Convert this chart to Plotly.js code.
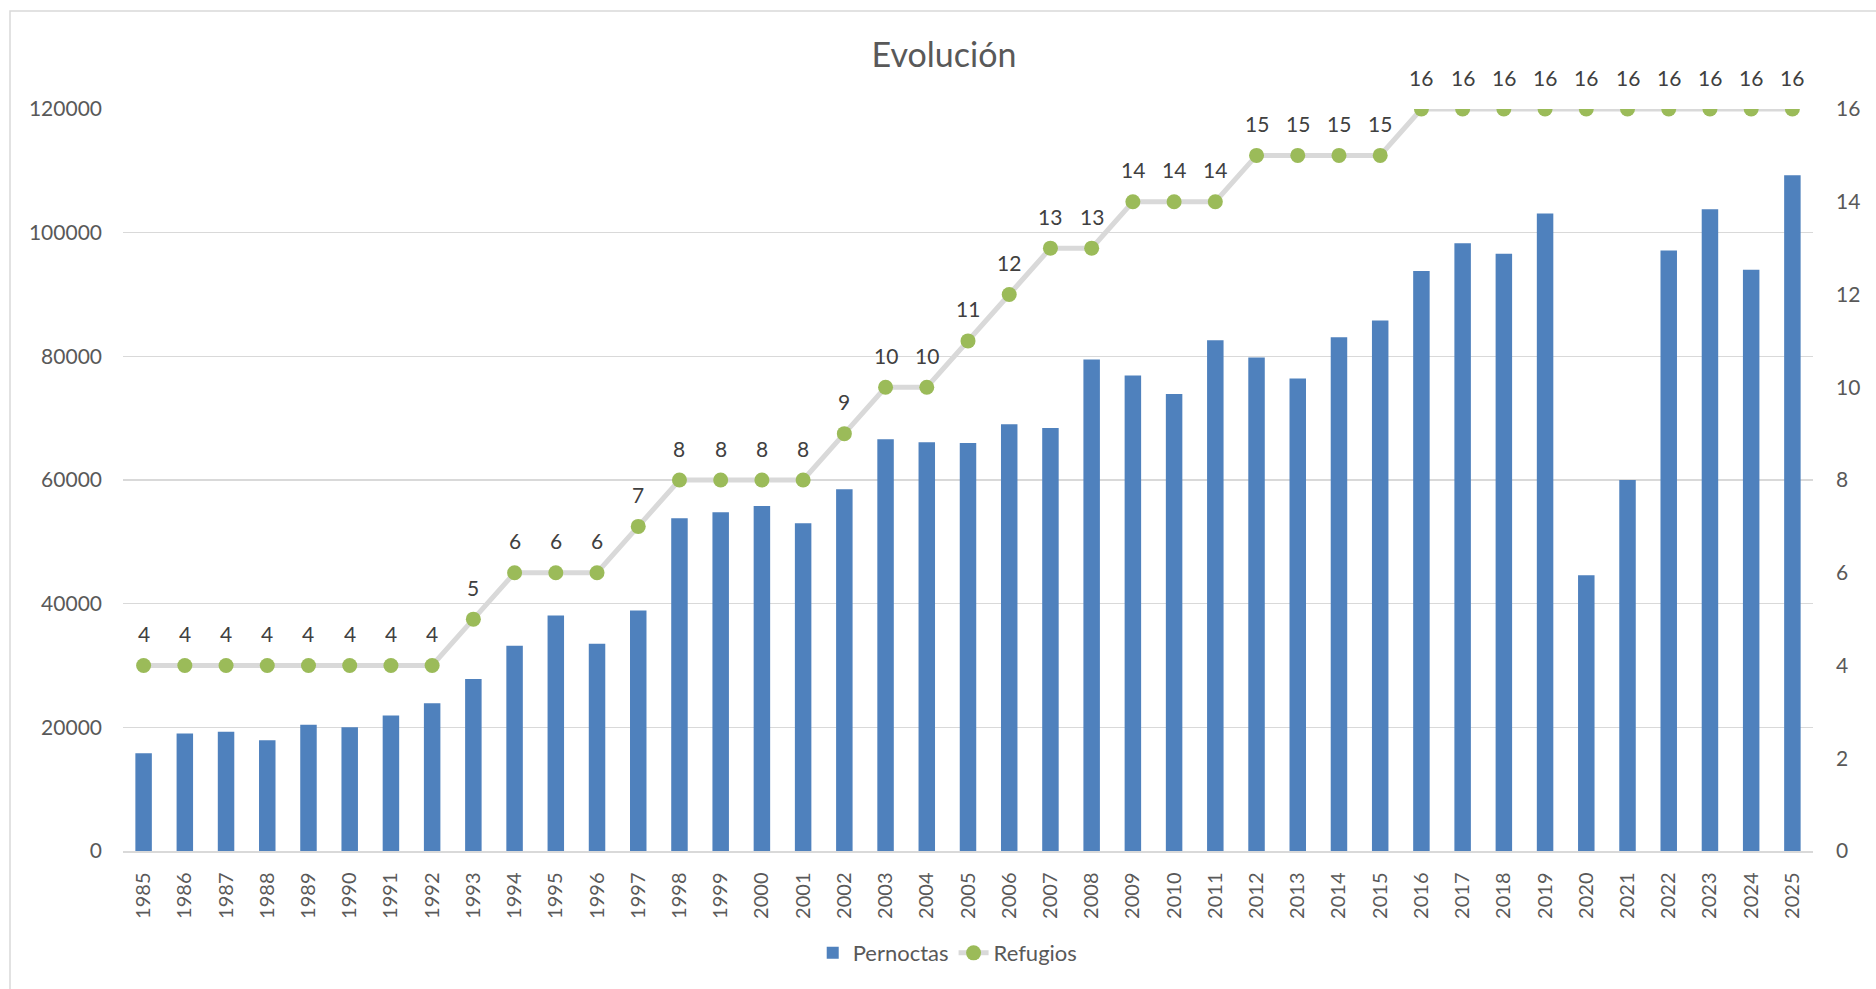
<!DOCTYPE html>
<html>
<head>
<meta charset="utf-8">
<script src="https://cdn.plot.ly/plotly-3.0.1.min.js"></script>
<style>
html, body { margin: 0; padding: 0; background: #ffffff; }
#chart { width: 1876px; height: 989px; }
</style>
</head>
<body>
<div id="chart"></div>
<script>
const years = ["1985","1986","1987","1988","1989","1990","1991","1992","1993","1994",
  "1995","1996","1997","1998","1999","2000","2001","2002","2003","2004",
  "2005","2006","2007","2008","2009","2010","2011","2012","2013","2014",
  "2015","2016","2017","2018","2019","2020","2021","2022","2023","2024","2025"];

const pernoctas = [15800, 19000, 19300, 17900, 20400, 20000, 21900, 23900, 27800, 33200,
  38100, 33500, 38900, 53800, 54800, 55800, 53000, 58500, 66600, 66100,
  66000, 69000, 68400, 79500, 76900, 73900, 82600, 79800, 76400, 83100,
  85800, 93800, 98300, 96600, 103100, 44600, 60000, 97100, 103800, 94000, 109300];

const refugios = [4, 4, 4, 4, 4, 4, 4, 4, 5, 6,
  6, 6, 7, 8, 8, 8, 8, 9, 10, 10,
  11, 12, 13, 13, 14, 14, 14, 15, 15, 15,
  15, 16, 16, 16, 16, 16, 16, 16, 16, 16, 16];

const seriesNames = ["Pernoctas", "Refugios"];
const chartTitle = "Evolución";

const FONT = "Lato, 'Noto Sans', sans-serif";
const AXIS_COLOR = "#595959";
const GRID_COLOR = "#D9D9D9";

const traces = [
  {
    type: "bar",
    name: seriesNames[0],
    x: years,
    y: pernoctas,
    yaxis: "y",
    marker: { color: "#4F81BD" },
    hoverinfo: "x+y"
  },
  {
    type: "scatter",
    mode: "lines+markers",
    name: seriesNames[1],
    x: years,
    y: refugios,
    yaxis: "y2",
    line: { color: "#D9D9D9", width: 5 },
    marker: { color: "#9BBB59", size: 15 },
    hoverinfo: "x+y"
  }
];

// data labels above each Refugios point (x given as category index)
const annotations = refugios.map((v, i) => ({
  x: i,
  y: v,
  xref: "x",
  yref: "y2",
  text: String(v),
  showarrow: false,
  yshift: 32,
  font: { family: FONT, size: 21, color: "#404040" }
}));

const layout = {
  width: 1876,
  height: 989,
  margin: { l: 123, r: 63, t: 109, b: 138, pad: 0 },
  paper_bgcolor: "#ffffff",
  plot_bgcolor: "#ffffff",
  font: { family: FONT, color: AXIS_COLOR, size: 21 },
  title: {
    text: chartTitle,
    xref: "container",
    yref: "container",
    x: 944 / 1876,
    y: 1 - 55 / 989,
    xanchor: "center",
    yanchor: "middle",
    font: { family: FONT, size: 34, color: AXIS_COLOR }
  },
  bargap: 0.6,
  showlegend: true,
  legend: {
    orientation: "h",
    x: 0.488,
    xanchor: "center",
    y: -0.1375,
    yanchor: "middle",
    font: { family: FONT, size: 22, color: AXIS_COLOR },
    bgcolor: "rgba(0,0,0,0)"
  },
  xaxis: {
    type: "category",
    range: [-0.5, years.length - 0.5],
    autorange: false,
    tickangle: -90,
    tickfont: { family: FONT, size: 20, color: AXIS_COLOR },
    showgrid: false,
    showline: true,
    linecolor: GRID_COLOR,
    linewidth: 1.5,
    ticks: "",
    ticklabelstandoff: 12,
    fixedrange: true
  },
  yaxis: {
    range: [0, 120000],
    autorange: false,
    dtick: 20000,
    tick0: 0,
    tickformat: "d",
    tickfont: { family: FONT, size: 21, color: AXIS_COLOR },
    showgrid: true,
    gridcolor: GRID_COLOR,
    gridwidth: 1.5,
    zeroline: false,
    showline: false,
    ticks: "",
    ticklabelstandoff: 20,
    fixedrange: true
  },
  yaxis2: {
    overlaying: "y",
    side: "right",
    range: [0, 16],
    autorange: false,
    dtick: 2,
    tick0: 0,
    tickfont: { family: FONT, size: 21, color: AXIS_COLOR },
    showgrid: false,
    zeroline: false,
    showline: false,
    ticks: "",
    ticklabelstandoff: 22,
    fixedrange: true
  },
  annotations: annotations,
  shapes: [
    {
      type: "rect",
      xref: "paper",
      yref: "paper",
      x0: (10 - 123) / 1690,
      x1: 1.2,
      y0: -0.4,
      y1: (851 - 11) / 742,
      line: { color: "#D9D9D9", width: 1.5 },
      fillcolor: "rgba(0,0,0,0)",
      layer: "below"
    }
  ]
};

Plotly.newPlot("chart", traces, layout, { displayModeBar: false, staticPlot: true });
</script>
</body>
</html>
